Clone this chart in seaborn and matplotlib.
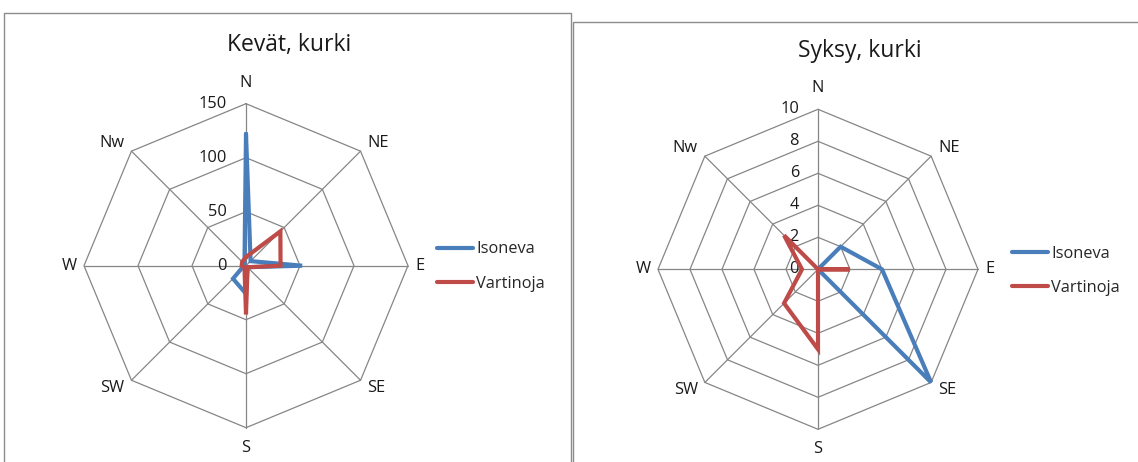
import numpy as np
import pandas as pd
import matplotlib
matplotlib.use("Agg")
import matplotlib.pyplot as plt
from matplotlib.patches import Rectangle
from matplotlib.lines import Line2D
import seaborn as sns

# Wind directions (clockwise from north)
directions = ["N", "NE", "E", "SE", "S", "SW", "W", "Nw"]
series_names = ["Isoneva", "Vartinoja"]

# Spring counts
spring_isoneva = [122, 6, 52, 2, 26, 17, 2, 2]
spring_vartinoja = [8, 45, 32, 2, 45, 2, 4, 5]
spring_ticks = [0, 50, 100, 150]

# Autumn counts
autumn_isoneva = [0, 2, 4, 10, 0, 0, 0, 0]
autumn_vartinoja = [0, 0, 2, 0, 5, 3, 1, 3]
autumn_ticks = [0, 2, 4, 6, 8, 10]

titles = ["Kevät, kurki", "Syksy, kurki"]

sns.set_theme(style="white")
plt.rcParams["font.family"] = ["Open Sans", "DejaVu Sans"]

BLUE = "#4A7EBB"
RED = "#BE4B48"
GRID = "#868686"
TXT = "#1a1a1a"
W, H = 1138, 462
DPI = 100
FS = 11.8

fig = plt.figure(figsize=(W / DPI, H / DPI), dpi=DPI)
fig.patch.set_facecolor("white")

angles = np.arange(len(directions)) * 2 * np.pi / len(directions)


def to_xy(values):
    v = np.asarray(values, dtype=float)
    v = np.append(v, v[0])
    a = np.append(angles, angles[0])
    return v * np.sin(a), v * np.cos(a)


def px_axes(cx, cy, r):
    # axes square around the radar centre, given in pixels from the top-left
    return fig.add_axes([(cx - r) / W, (H - cy - r) / H, 2 * r / W, 2 * r / H])


def radar(ax, ticks, s1, s2, title, title_xy, legend_xy):
    vmax = ticks[-1]
    ax.set_xlim(-vmax, vmax)
    ax.set_ylim(-vmax, vmax)
    ax.set_axis_off()

    # polygon rings
    for t in ticks[1:]:
        gx, gy = to_xy([t] * len(directions))
        ax.plot(gx, gy, color=GRID, lw=0.9, zorder=1, clip_on=False)
    # spokes
    ox, oy = to_xy([vmax] * len(directions))
    for x, y in zip(ox[:-1], oy[:-1]):
        ax.plot([0, x], [0, y], color=GRID, lw=0.9, zorder=1, clip_on=False)

    # value labels along the north spoke
    for t in ticks:
        ax.annotate(str(t), xy=(0, t), xytext=(-19, 0), textcoords="offset pixels",
                    ha="right", va="center", fontsize=FS, color=TXT)

    # direction labels
    for d, x, y, a in zip(directions, ox[:-1], oy[:-1], angles):
        sx, sy = np.sin(a), np.cos(a)
        if abs(sx) < 1e-6:
            ha = "center"
            dx, dy = 0, (13 if sy > 0 else -12)
            va = "bottom" if sy > 0 else "top"
        else:
            ha = "left" if sx > 0 else "right"
            dx, dy = (7 if sx > 0 else -7), 0
            if abs(sy) < 1e-6:
                va = "center"
            else:
                va = "bottom" if sy > 0 else "top"
        ax.annotate(d, xy=(x, y), xytext=(dx, dy), textcoords="offset pixels",
                    ha=ha, va=va, fontsize=FS, color=TXT)

    for vals, col in ((s1, BLUE), (s2, RED)):
        x, y = to_xy(vals)
        sns.lineplot(x=x, y=y, sort=False, estimator=None, color=col, lw=3.0,
                     ax=ax, zorder=3, legend=False)
    for ln in ax.lines[-2:]:
        ln.set_solid_joinstyle("miter")
        ln.set_clip_on(False)

    fig.text(title_xy[0] / W, 1 - title_xy[1] / H, title, ha="center", va="center",
             fontsize=16.5, color=TXT)

    handles = [Line2D([], [], color=BLUE, lw=3.0), Line2D([], [], color=RED, lw=3.0)]
    fig.legend(handles, series_names, loc="center left",
               bbox_to_anchor=(legend_xy[0] / W, 1 - legend_xy[1] / H),
               frameon=False, fontsize=FS, handlelength=2.2, handletextpad=0.2,
               labelspacing=1.1, borderpad=0, borderaxespad=0)


# panel frames
fig.add_artist(Rectangle((4 / W, -0.05), 567 / W, 1.05 - 13 / H, transform=fig.transFigure,
                         fill=False, edgecolor="#8c8c8c", lw=1.0))
fig.add_artist(Rectangle((573 / W, -0.05), 600 / W, 1.05 - 22 / H, transform=fig.transFigure,
                         fill=False, edgecolor="#8c8c8c", lw=1.0))

ax1 = px_axes(246, 265.7, 162)
radar(ax1, spring_ticks, spring_isoneva, spring_vartinoja, titles[0], (289, 45), (437, 266.5))

ax2 = px_axes(818, 269.3, 160)
radar(ax2, autumn_ticks, autumn_isoneva, autumn_vartinoja, titles[1], (860, 51), (1012, 271))

fig.savefig("out.png", dpi=DPI, facecolor="white")
